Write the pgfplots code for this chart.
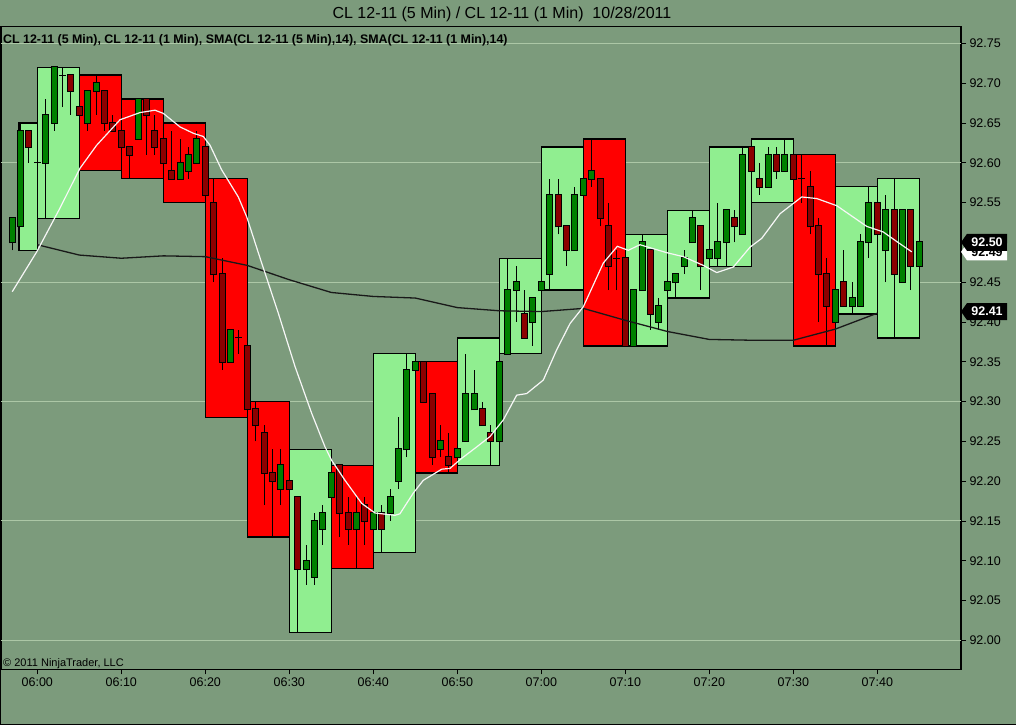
\documentclass[border=0pt]{standalone}
\usepackage{pgfplots}
\pgfplotsset{compat=1.18}
\usepackage{pgfplotstable}
\usepackage{fontspec}
\setmainfont{Liberation Sans}
\definecolor{bg}{RGB}{124,155,124}
\definecolor{gridc}{RGB}{172,199,166}
\definecolor{boxg}{RGB}{144,238,144}
\definecolor{boxr}{RGB}{255,0,0}
\definecolor{cup}{RGB}{0,128,0}
\definecolor{cdn}{RGB}{139,0,0}

% 1-min up candles (close > open)
\pgfplotstableread{
i o h l c
-3 92.50 92.53 92.49 92.53
-2 92.52 92.65 92.52 92.64
1 92.60 92.68 92.53 92.66
2 92.65 92.72 92.64 92.72
6 92.65 92.69 92.64 92.69
7 92.69 92.71 92.66 92.70
12 92.63 92.68 92.63 92.68
17 92.58 92.63 92.58 92.60
18 92.59 92.62 92.58 92.61
19 92.60 92.64 92.60 92.63
23 92.35 92.39 92.35 92.39
29 92.19 92.24 92.17 92.22
32 92.09 92.12 92.07 92.10
33 92.08 92.16 92.07 92.15
34 92.14 92.17 92.12 92.16
35 92.18 92.24 92.06 92.21
38 92.14 92.18 92.09 92.16
40 92.14 92.16 92.14 92.16
42 92.16 92.19 92.15 92.18
43 92.20 92.28 92.19 92.24
44 92.24 92.36 92.23 92.34
45 92.34 92.35 92.34 92.35
48 92.24 92.27 92.23 92.25
50 92.23 92.24 92.23 92.24
51 92.25 92.36 92.25 92.31
52 92.29 92.34 92.29 92.31
55 92.25 92.38 92.25 92.35
56 92.36 92.48 92.36 92.44
57 92.44 92.47 92.40 92.45
59 92.40 92.43 92.37 92.43
60 92.44 92.45 92.38 92.45
61 92.46 92.58 92.44 92.56
64 92.49 92.57 92.49 92.56
65 92.56 92.62 92.56 92.58
66 92.58 92.63 92.57 92.59
71 92.37 92.44 92.37 92.44
72 92.44 92.51 92.44 92.50
74 92.40 92.43 92.39 92.42
75 92.44 92.45 92.43 92.45
76 92.45 92.46 92.43 92.46
77 92.47 92.49 92.46 92.48
78 92.50 92.54 92.50 92.53
80 92.48 92.49 92.48 92.49
81 92.48 92.55 92.47 92.50
82 92.50 92.54 92.47 92.54
84 92.51 92.62 92.51 92.61
87 92.57 92.62 92.57 92.61
89 92.59 92.63 92.59 92.61
95 92.40 92.44 92.39 92.44
97 92.42 92.45 92.41 92.43
98 92.42 92.51 92.42 92.50
99 92.50 92.57 92.48 92.55
101 92.49 92.56 92.45 92.54
103 92.45 92.54 92.45 92.54
105 92.47 92.52 92.47 92.50
}\up

% 1-min down candles (close < open)
\pgfplotstableread{
i o h l c
-1 92.64 92.64 92.60 92.62
4 92.71 92.71 92.66 92.69
5 92.67 92.67 92.66 92.66
8 92.69 92.69 92.64 92.65
9 92.65 92.66 92.64 92.64
10 92.64 92.64 92.59 92.62
11 92.62 92.62 92.58 92.61
13 92.68 92.68 92.61 92.66
14 92.64 92.66 92.61 92.62
15 92.63 92.63 92.60 92.60
16 92.59 92.64 92.58 92.58
20 92.62 92.65 92.55 92.56
21 92.55 92.58 92.45 92.46
22 92.46 92.48 92.34 92.35
25 92.37 92.37 92.28 92.29
26 92.29 92.30 92.25 92.27
27 92.26 92.27 92.17 92.21
28 92.21 92.24 92.13 92.20
30 92.20 92.20 92.19 92.19
31 92.18 92.18 92.01 92.09
36 92.22 92.22 92.13 92.16
37 92.16 92.18 92.12 92.14
39 92.17 92.18 92.12 92.15
41 92.16 92.17 92.11 92.14
46 92.35 92.35 92.30 92.30
47 92.31 92.31 92.22 92.23
49 92.23 92.26 92.21 92.22
53 92.29 92.30 92.27 92.27
54 92.26 92.27 92.22 92.25
58 92.41 92.44 92.38 92.38
62 92.56 92.58 92.51 92.52
63 92.52 92.52 92.47 92.49
67 92.58 92.58 92.52 92.53
68 92.52 92.55 92.44 92.47
70 92.48 92.49 92.37 92.37
73 92.49 92.49 92.39 92.41
79 92.52 92.52 92.44 92.47
83 92.53 92.54 92.50 92.52
85 92.62 92.62 92.59 92.59
86 92.58 92.60 92.56 92.57
88 92.61 92.62 92.58 92.59
90 92.61 92.61 92.55 92.58
92 92.57 92.59 92.51 92.52
93 92.52 92.53 92.40 92.46
94 92.46 92.48 92.37 92.42
96 92.45 92.49 92.42 92.42
100 92.55 92.55 92.51 92.51
102 92.54 92.58 92.38 92.46
104 92.54 92.54 92.44 92.47
}\dn

% doji candles (close = open)
\pgfplotstableread{
i o h l c
0 92.60 92.605 92.595 92.60
3 92.71 92.72 92.67 92.71
24 92.38 92.39 92.36 92.38
69 92.48 92.49 92.44 92.48
91 92.58 92.61 92.55 92.58
}\doji

% SMA(CL 12-11 (1 Min),14)
\pgfplotstableread{
i s
-2.98 92.438
-0.07 92.488
2.70 92.543
5.08 92.593
7.07 92.622
9.85 92.654
12.23 92.663
14.01 92.666
15.0 92.662
16.99 92.645
18.57 92.637
19.76 92.633
20.56 92.622
21.95 92.591
23.93 92.557
24.93 92.532
26.71 92.474
28.69 92.411
30.68 92.344
32.67 92.285
34.25 92.243
35.05 92.226
36.63 92.201
38.62 92.172
40.2 92.160
42.58 92.157
43.17 92.159
44.76 92.185
45.95 92.201
48.14 92.215
49.13 92.216
50.32 92.227
52.31 92.243
53.89 92.256
55.48 92.277
57.07 92.308
58.26 92.310
60.24 92.327
61.83 92.365
63.42 92.398
65.0 92.419
67.38 92.474
69.05 92.495
70.36 92.490
71.75 92.497
73.33 92.492
74.93 92.487
76.9 92.482
79.29 92.471
80.88 92.462
82.86 92.469
84.85 92.494
86.24 92.505
88.42 92.536
91.0 92.557
92.79 92.555
95.17 92.546
98.74 92.520
100.71 92.513
102.31 92.501
104.1 92.488
}\smaone

% SMA(CL 12-11 (5 Min),14)
\pgfplotstableread{
i s
0 92.497
5 92.484
10 92.480
15 92.483
20 92.482
25 92.471
30 92.453
35 92.437
40 92.432
45 92.430
50 92.418
55 92.414
60 92.413
65 92.417
70 92.402
75 92.388
80 92.378
85 92.377
90 92.377
95 92.391
100 92.411
}\smafive

\pgfplotsset{
  bodyline/.style={draw=none, mark=none, forget plot,
    error bars/.cd, y dir=plus, y explicit, error mark=none,
    error bar style={#1}},
  fivebox/.style={draw=black, line width=1.4pt, fill=#1, forget plot},
}

\begin{document}
\begin{tikzpicture}[x=1pt,y=1pt]
\useasboundingbox (0,0) rectangle (1016,725);
\fill[bg] (0,0) rectangle (1016,725);
\draw[black, line width=1pt] (0.5,698.3) -- (0.5,0.5) -- (1016,0.5);

\begin{axis}[
  at={(1pt,55.7pt)}, anchor=south west,
  scale only axis, width=960pt, height=642.6pt,
  xmin=-4.32, xmax=109.96, ymin=91.9636, ymax=92.7709,
  axis line style={black, line width=1.3pt},
  tick align=outside, major tick length=5pt,
  tick style={black, line width=0.8pt},
  xtick={0,10,...,100},
  xticklabels={06:00,06:10,06:20,06:30,06:40,06:50,07:00,07:10,07:20,07:30,07:40},
  xtick pos=left,
  ytick={92.00,92.05,92.10,92.15,92.20,92.25,92.30,92.35,92.40,92.45,92.50,92.55,92.60,92.65,92.70,92.75},
  yticklabels={92.00,92.05,92.10,92.15,92.20,92.25,92.30,92.35,92.40,92.45,92.50,92.55,92.60,92.65,92.70,92.75},
  ytick pos=right, yticklabel pos=right,
  ticklabel style={font=\fontsize{12.5}{14}\selectfont, text=black},
  extra y ticks={92.00,92.15,92.30,92.45,92.60,92.75},
  extra y tick labels={},
  extra y tick style={grid=major, major tick length=0pt},
  major grid style={gridc, line width=0.9pt},
]
% 5-minute bars (high-low boxes)
\addplot[fivebox=boxg] coordinates {(-2.2,92.49) (-2.2,92.65) (0,92.65) (0,92.49)} -- cycle;
\addplot[fivebox=boxg] coordinates {(0,92.53) (0,92.72) (5,92.72) (5,92.53)} -- cycle;
\addplot[fivebox=boxr] coordinates {(5,92.59) (5,92.71) (10,92.71) (10,92.59)} -- cycle;
\addplot[fivebox=boxr] coordinates {(10,92.58) (10,92.68) (15,92.68) (15,92.58)} -- cycle;
\addplot[fivebox=boxr] coordinates {(15,92.55) (15,92.65) (20,92.65) (20,92.55)} -- cycle;
\addplot[fivebox=boxr] coordinates {(20,92.28) (20,92.58) (25,92.58) (25,92.28)} -- cycle;
\addplot[fivebox=boxr] coordinates {(25,92.13) (25,92.30) (30,92.30) (30,92.13)} -- cycle;
\addplot[fivebox=boxg] coordinates {(30,92.01) (30,92.24) (35,92.24) (35,92.01)} -- cycle;
\addplot[fivebox=boxr] coordinates {(35,92.09) (35,92.22) (40,92.22) (40,92.09)} -- cycle;
\addplot[fivebox=boxg] coordinates {(40,92.11) (40,92.36) (45,92.36) (45,92.11)} -- cycle;
\addplot[fivebox=boxr] coordinates {(45,92.21) (45,92.35) (50,92.35) (50,92.21)} -- cycle;
\addplot[fivebox=boxg] coordinates {(50,92.22) (50,92.38) (55,92.38) (55,92.22)} -- cycle;
\addplot[fivebox=boxg] coordinates {(55,92.36) (55,92.48) (60,92.48) (60,92.36)} -- cycle;
\addplot[fivebox=boxg] coordinates {(60,92.44) (60,92.62) (65,92.62) (65,92.44)} -- cycle;
\addplot[fivebox=boxr] coordinates {(65,92.37) (65,92.63) (70,92.63) (70,92.37)} -- cycle;
\addplot[fivebox=boxg] coordinates {(70,92.37) (70,92.51) (75,92.51) (75,92.37)} -- cycle;
\addplot[fivebox=boxg] coordinates {(75,92.43) (75,92.54) (80,92.54) (80,92.43)} -- cycle;
\addplot[fivebox=boxg] coordinates {(80,92.47) (80,92.62) (85,92.62) (85,92.47)} -- cycle;
\addplot[fivebox=boxg] coordinates {(85,92.55) (85,92.63) (90,92.63) (90,92.55)} -- cycle;
\addplot[fivebox=boxr] coordinates {(90,92.37) (90,92.61) (95,92.61) (95,92.37)} -- cycle;
\addplot[fivebox=boxg] coordinates {(95,92.41) (95,92.57) (100,92.57) (100,92.41)} -- cycle;
\addplot[fivebox=boxg] coordinates {(100,92.38) (100,92.58) (105,92.58) (105,92.38)} -- cycle;

% wicks
\addplot[bodyline={draw=black, line width=1pt}] table[x=i, y=l, y error expr={\thisrow{h}-\thisrow{l}}] {\up};
\addplot[bodyline={draw=black, line width=1pt}] table[x=i, y=l, y error expr={\thisrow{h}-\thisrow{l}}] {\dn};
\addplot[bodyline={draw=black, line width=1pt}] table[x=i, y=l, y error expr={\thisrow{h}-\thisrow{l}}] {\doji};
% bodies: black outline, then colour
\addplot[bodyline={draw=black, line width=7pt}] table[x=i, y expr={\thisrow{o}-0.00126}, y error expr={\thisrow{c}-\thisrow{o}+0.00252}] {\up};
\addplot[bodyline={draw=cup, line width=5pt}] table[x=i, y=o, y error expr={\thisrow{c}-\thisrow{o}}] {\up};
\addplot[bodyline={draw=black, line width=7pt}] table[x=i, y expr={\thisrow{c}-0.00126}, y error expr={\thisrow{o}-\thisrow{c}+0.00252}] {\dn};
\addplot[bodyline={draw=cdn, line width=5pt}] table[x=i, y=c, y error expr={\thisrow{o}-\thisrow{c}}] {\dn};
\addplot[bodyline={draw=black, line width=7pt}] table[x=i, y expr={\thisrow{o}-0.0006}, y error expr={0.0012}] {\doji};

% SMAs
\addplot[black!90, line width=1.3pt, mark=none, forget plot] table[x=i, y=s] {\smafive};
\addplot[white!94!gray, line width=1.2pt, mark=none, forget plot] table[x=i, y=s] {\smaone};

\coordinate (tW) at (axis cs:109.96,92.488);
\coordinate (tA) at (axis cs:109.96,92.50);
\coordinate (tB) at (axis cs:109.96,92.413);
\end{axis}

% last-value tags
\fill[white] (tW) -- ++(6,8.5) -- ++(40,0) -- ++(0,-17) -- ++(-40,0) -- cycle;
\node[xshift=26pt, font=\bfseries\fontsize{12.5}{14}\selectfont, text=black, inner sep=0] at (tW) {92.49};
\fill[black] (tA) -- ++(6,8.5) -- ++(40,0) -- ++(0,-17) -- ++(-40,0) -- cycle;
\node[xshift=26pt, font=\bfseries\fontsize{12.5}{14}\selectfont, text=white, inner sep=0] at (tA) {92.50};
\fill[black] (tB) -- ++(6,8.5) -- ++(40,0) -- ++(0,-17) -- ++(-40,0) -- cycle;
\node[xshift=26pt, font=\bfseries\fontsize{12.5}{14}\selectfont, text=white, inner sep=0] at (tB) {92.41};

% texts
\node[anchor=base, inner sep=0, font=\fontsize{16}{19}\selectfont] at (502,706) {CL 12-11 (5 Min) / CL 12-11 (1 Min)\ \ 10/28/2011};
\node[anchor=base west, inner sep=0, font=\bfseries\fontsize{12.4}{14}\selectfont] at (3,681) {CL 12-11 (5 Min), CL 12-11 (1 Min), SMA(CL 12-11 (5 Min),14), SMA(CL 12-11 (1 Min),14)};
\node[anchor=base west, inner sep=0, font=\fontsize{11}{13}\selectfont] at (3,58.3) {© 2011 NinjaTrader, LLC};
\end{tikzpicture}
\end{document}
